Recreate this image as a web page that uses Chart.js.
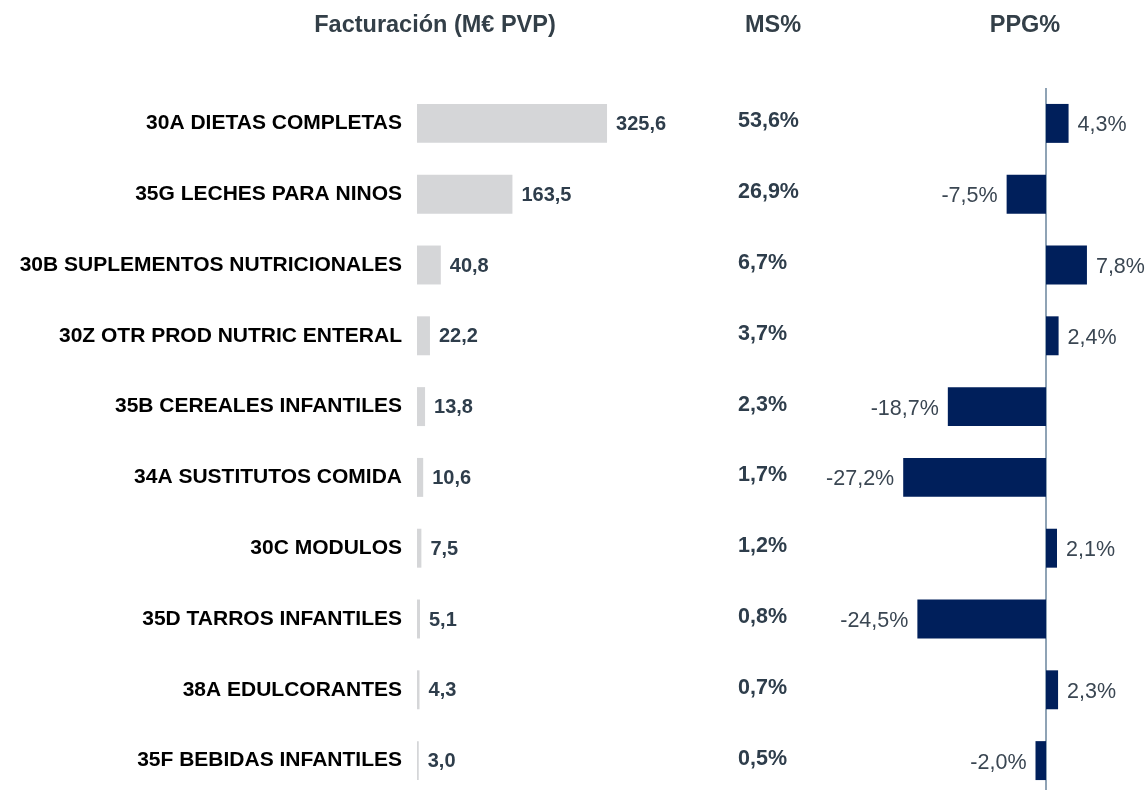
<!DOCTYPE html>
<html>
<head>
<meta charset="utf-8">
<script src="https://cdn.jsdelivr.net/npm/chart.js@4"></script>
<style>
  html, body { margin: 0; padding: 0; background: #fff; overflow: hidden; }
  #wrap { position: relative; width: 1147px; height: 791px; }
  canvas { position: absolute; left: 0; top: 0; }
</style>
</head>
<body>
<div id="wrap">
  <canvas id="fact" width="1147" height="800"></canvas>
  <canvas id="ppg" width="1147" height="800"></canvas>
</div>
<script>
const categories = [
  '30A DIETAS COMPLETAS',
  '35G LECHES PARA NINOS',
  '30B SUPLEMENTOS NUTRICIONALES',
  '30Z OTR PROD NUTRIC ENTERAL',
  '35B CEREALES INFANTILES',
  '34A SUSTITUTOS COMIDA',
  '30C MODULOS',
  '35D TARROS INFANTILES',
  '38A EDULCORANTES',
  '35F BEBIDAS INFANTILES'
];
const facturacion = [325.6, 163.5, 40.8, 22.2, 13.8, 10.6, 7.5, 5.1, 4.3, 3.0];
const msPct = [53.6, 26.9, 6.7, 3.7, 2.3, 1.7, 1.2, 0.8, 0.7, 0.5];
const ppgPct = [4.3, -7.5, 7.8, 2.4, -18.7, -27.2, 2.1, -24.5, 2.3, -2.0];
const headers = ['Facturación (M€ PVP)', 'MS%', 'PPG%'];

const FONT = "'Liberation Sans', Arial, sans-serif";
const SLATE = '#2e3d4b';
const fmt = v => v.toFixed(1).replace('.', ',');

// bar values, MS% column and column headers on the left chart
const factLabels = {
  id: 'factLabels',
  afterDatasetsDraw(chart) {
    const ctx = chart.ctx;
    const meta = chart.getDatasetMeta(0);
    ctx.save();
    ctx.textBaseline = 'middle';
    ctx.fillStyle = SLATE;
    meta.data.forEach((bar, i) => {
      ctx.textAlign = 'left';
      ctx.font = 'bold 20px ' + FONT;
      ctx.fillText(fmt(facturacion[i]), bar.x + 9, bar.y + 1);
      ctx.font = 'bold 21.5px ' + FONT;
      ctx.fillText(fmt(msPct[i]) + '%', 738, bar.y - 2);
    });
    ctx.font = 'bold 23.5px ' + FONT;
    ctx.fillStyle = '#333f48';
    ctx.textAlign = 'center';
    ctx.fillText(headers[0], 435, 26);
    ctx.fillText(headers[1], 773, 26);
    ctx.fillText(headers[2], 1025, 26);
    ctx.restore();
  }
};

new Chart(document.getElementById('fact'), {
  type: 'bar',
  data: {
    labels: categories,
    datasets: [{
      data: facturacion,
      backgroundColor: '#d5d6d8',
      categoryPercentage: 1,
      barPercentage: 0.55
    }]
  },
  options: {
    indexAxis: 'y',
    responsive: false,
    animation: false,
    layout: { padding: { left: 0, right: 287, top: 88, bottom: 4 } },
    plugins: { legend: { display: false }, tooltip: { enabled: false } },
    scales: {
      x: { display: false, min: 0, max: 759 },
      y: {
        grid: { display: false, drawTicks: false },
        border: { display: false },
        ticks: {
          color: '#000',
          padding: 15,
          font: { family: FONT, size: 21, weight: 'bold' }
        },
        afterFit(scale) {
          scale.width = 417;
          scale.paddingTop = 0;
          scale.paddingBottom = 0;
        }
      }
    }
  },
  plugins: [factLabels]
});

// zero line and percentage labels for the PPG bars
const ppgDecor = {
  id: 'ppgDecor',
  beforeDatasetsDraw(chart) {
    const ctx = chart.ctx;
    const x0 = chart.scales.x.getPixelForValue(0);
    ctx.save();
    ctx.strokeStyle = '#8fa3b5';
    ctx.lineWidth = 2;
    ctx.beginPath();
    ctx.moveTo(x0, 88);
    ctx.lineTo(x0, 790);
    ctx.stroke();
    ctx.restore();
  },
  afterDatasetsDraw(chart) {
    const ctx = chart.ctx;
    const meta = chart.getDatasetMeta(0);
    ctx.save();
    ctx.textBaseline = 'middle';
    ctx.fillStyle = '#3a4652';
    ctx.font = '21.5px ' + FONT;
    meta.data.forEach((bar, i) => {
      const v = ppgPct[i];
      if (v >= 0) {
        ctx.textAlign = 'left';
        ctx.fillText(fmt(v) + '%', bar.x + 9, bar.y + 2);
      } else {
        ctx.textAlign = 'right';
        ctx.fillText(fmt(v) + '%', bar.x - 9, bar.y + 2);
      }
    });
    ctx.restore();
  }
};

new Chart(document.getElementById('ppg'), {
  type: 'bar',
  data: {
    labels: categories,
    datasets: [{
      data: ppgPct,
      backgroundColor: '#001f5b',
      categoryPercentage: 1,
      barPercentage: 0.55
    }]
  },
  options: {
    indexAxis: 'y',
    responsive: false,
    animation: false,
    layout: { padding: { left: 860, right: 0, top: 88, bottom: 4 } },
    plugins: { legend: { display: false }, tooltip: { enabled: false } },
    scales: {
      x: { display: false, min: -35.43, max: 19.24 },
      y: { display: false }
    }
  },
  plugins: [ppgDecor]
});
</script>
</body>
</html>
